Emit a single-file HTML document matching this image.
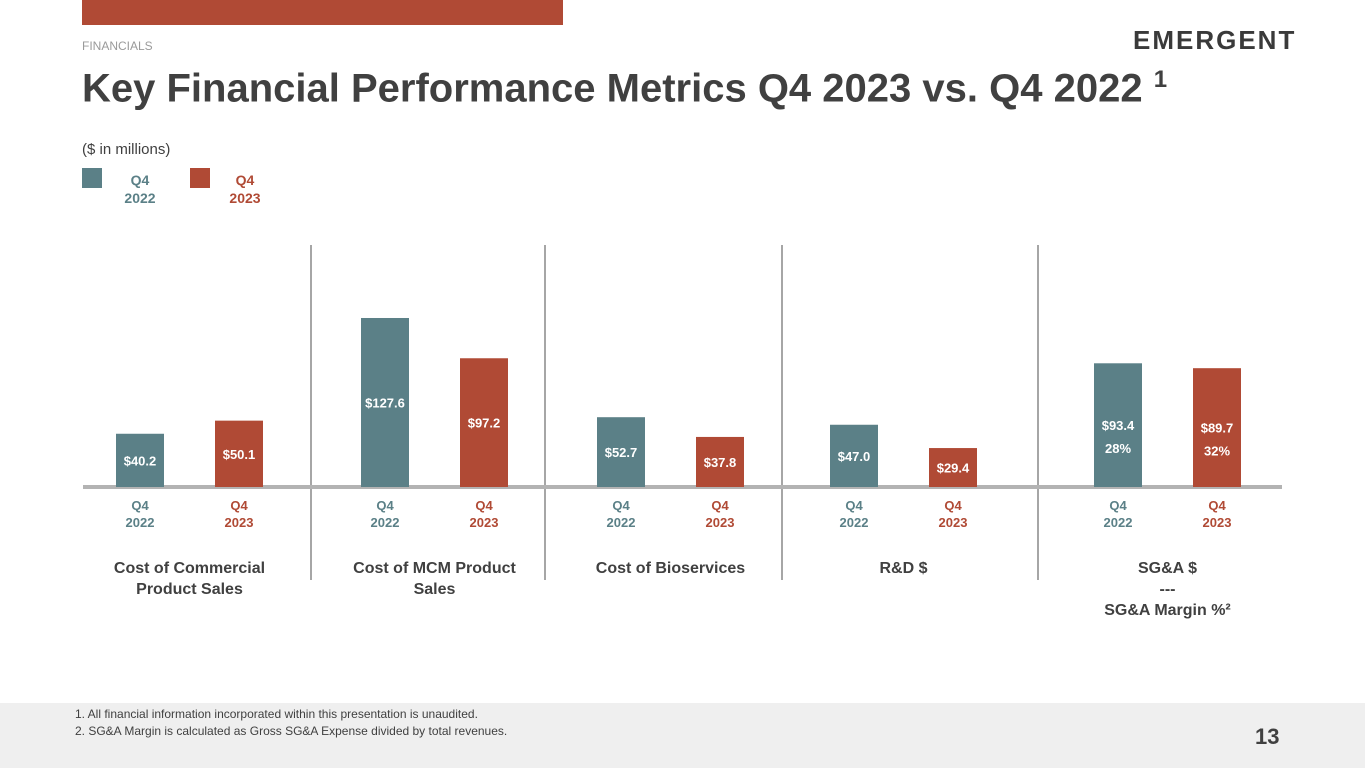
<!DOCTYPE html>
<html><head><meta charset="utf-8"><style>
body{margin:0;width:1365px;height:768px;overflow:hidden;background:#fff;font-family:"Liberation Sans",sans-serif;position:relative}
.abs{position:absolute}
</style></head><body>
<div class="abs" style="left:82px;top:0;width:481px;height:25px;background:#b04a35"></div>
<div class="abs" style="left:82px;top:39px;font-size:12px;color:#9a9a9a">FINANCIALS</div>
<div class="abs" style="left:1133px;top:25px;font-size:26px;font-weight:bold;letter-spacing:2px;color:#3a3a3a">EMERGENT</div>
<div class="abs" style="left:82px;top:66px;font-size:40px;font-weight:bold;color:#404040;white-space:nowrap">Key Financial Performance Metrics Q4 2023 vs. Q4 2022 <sup style="font-size:24px">1</sup></div>
<div class="abs" style="left:82px;top:141px;font-size:15px;color:#404040">($ in millions)</div>
<div class="abs" style="left:82px;top:168px;width:20px;height:20px;background:#5b8087"></div>
<div class="abs" style="left:120px;top:171px;width:40px;text-align:center;font-size:14px;font-weight:bold;color:#5b8087;line-height:18px">Q4<br>2022</div>
<div class="abs" style="left:190px;top:168px;width:20px;height:20px;background:#b04a35"></div>
<div class="abs" style="left:225px;top:171px;width:40px;text-align:center;font-size:14px;font-weight:bold;color:#b04a35;line-height:18px">Q4<br>2023</div>

<svg class="abs" style="left:0;top:0" width="1365" height="700" id="chart"></svg>

<div class="abs" style="left:0;top:703px;width:1365px;height:65px;background:#efefef"></div>
<div class="abs" style="left:75px;top:706px;font-size:12px;color:#404040;line-height:17px">1. All financial information incorporated within this presentation is unaudited.<br>2. SG&amp;A Margin is calculated as Gross SG&amp;A Expense divided by total revenues.</div>
<div class="abs" style="left:1255px;top:724px;font-size:22px;font-weight:bold;color:#404040">13</div>

<script>
const categories=["Cost of Commercial\nProduct Sales","Cost of MCM Product\nSales","Cost of Bioservices","R&D $","SG&A $\n---\nSG&A Margin %²"];
const values2022=[40.2,127.6,52.7,47.0,93.4];
const values2023=[50.1,97.2,37.8,29.4,89.7];
const margins2022=["","","","","28%"];
const margins2023=["","","","","32%"];
const svg=document.getElementById('chart');
const NS='http://www.w3.org/2000/svg';
const base=487, k=1.3245;
const y=v=>base-v*k;
const groupX=[116,361,597,830,1094];
const gap=99, bw=48;
const dividers=[311,545,782,1038];
function el(t,a,txt){const e=document.createElementNS(NS,t);for(const n in a)e.setAttribute(n,a[n]);if(txt!==undefined)e.textContent=txt;svg.appendChild(e);return e;}
dividers.forEach((d,i)=>{const l=el('line',{x1:d,x2:d,y1:245,y2:580,stroke:'#a6a6a6','stroke-width':2});

});
const bl=el('line',{x1:83,x2:1282,y1:base,y2:base,stroke:'#b3b3b3','stroke-width':4});


categories.forEach((c,i)=>{
 [[values2022,margins2022,'#5b8087',0,'2022'],[values2023,margins2023,'#b04a35',1,'2023']].forEach(([vals,m,col,j,yr])=>{
  const v=vals[i],x=groupX[i]+j*gap;
  const r=el('rect',{x:x,y:y(v),width:bw,height:v*k,fill:col});
  
  
  const cy=(y(v)+base)/2+5;
  const t=el('text',{x:x+bw/2,y:cy,'text-anchor':'middle','font-size':13,'font-weight':'bold',fill:'#fff'},'$'+v.toFixed(1));
  
  
  if(m[i]){const t2=el('text',{x:x+bw/2,y:cy+23,'text-anchor':'middle','font-size':13,'font-weight':'bold',fill:'#fff'},m[i]);
  
  }
  const a=el('text',{x:x+bw/2,y:510,'text-anchor':'middle','font-size':13,'font-weight':'bold',fill:col},'Q4');
  
  
  const b=el('text',{x:x+bw/2,y:527,'text-anchor':'middle','font-size':13,'font-weight':'bold',fill:col},yr);
  
  
 });
 const cx=groupX[i]+(gap+bw)/2;
 c.split('\n').forEach((ln,li)=>{const t=el('text',{x:cx,y:573+li*21,'text-anchor':'middle','font-size':16,'font-weight':'bold',fill:'#404040'},ln);
 
 });
});
</script>
</body></html>
